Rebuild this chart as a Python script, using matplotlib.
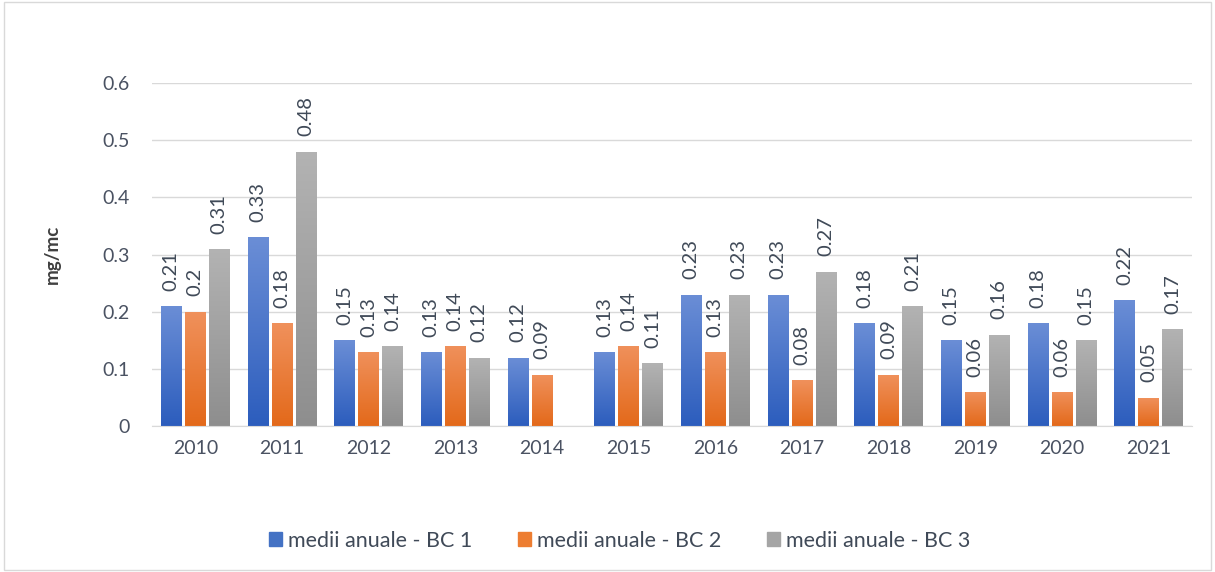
import numpy as np
import matplotlib
matplotlib.use("Agg")
import matplotlib.pyplot as plt
from matplotlib.colors import LinearSegmentedColormap
from matplotlib.patches import Rectangle

years = ["2010", "2011", "2012", "2013", "2014", "2015", "2016", "2017", "2018", "2019", "2020", "2021"]
bc1 = [0.21, 0.33, 0.15, 0.13, 0.12, 0.13, 0.23, 0.23, 0.18, 0.15, 0.18, 0.22]
bc2 = [0.20, 0.18, 0.13, 0.14, 0.09, 0.14, 0.13, 0.08, 0.09, 0.06, 0.06, 0.05]
bc3 = [0.31, 0.48, 0.14, 0.12, np.nan, 0.11, 0.23, 0.27, 0.21, 0.16, 0.15, 0.17]
names = ["medii anuale - BC 1", "medii anuale - BC 2", "medii anuale - BC 3"]

colors = ["#4472C4", "#ED7D31", "#A5A5A5"]
grads = [("#6B8ED6", "#2C5DBD"), ("#F0915C", "#E3691A"), ("#B3B3B3", "#8E8E8E")]

plt.rcParams['font.family'] = ['Lato', 'DejaVu Sans']

fig = plt.figure(figsize=(12.15, 5.72), dpi=100)
ax = fig.add_axes([0.1251, 0.255, 0.856, 0.600])

x = np.arange(len(years))
w = 0.242
offs = [-0.277, 0, 0.277]
series = [bc1, bc2, bc3]
for s, vals, off, col, (top, bot), nm in zip(range(3), series, offs, colors, grads, names):
    bars = ax.bar(x + off, vals, width=w, color=col, label=nm, zorder=2)
    cmap = LinearSegmentedColormap.from_list("g%d" % s, [bot, top])
    grad = np.linspace(0, 1, 256).reshape(-1, 1)
    for b, v in zip(bars, vals):
        if np.isnan(v):
            continue
        b.set_alpha(0)
        x0, y0 = b.get_x(), b.get_y()
        im = ax.imshow(grad, cmap=cmap, origin="lower", aspect="auto",
                       extent=[x0, x0 + b.get_width(), y0, y0 + b.get_height()], zorder=2)
        im.set_clip_path(Rectangle((x0, y0), b.get_width(), b.get_height(), transform=ax.transData))
        ax.annotate(f"{v:g}", (b.get_x() + b.get_width() / 2, v), xytext=(0, 11),
                    textcoords="offset points", rotation=90, ha="center", va="bottom",
                    fontsize=14.5, color="#404A58")

ax.set_xlim(-0.5, len(years) - 0.5)
ax.set_ylim(0, 0.6)
ax.set_yticks([0, 0.1, 0.2, 0.3, 0.4, 0.5, 0.6])
ax.set_yticklabels(["0", "0.1", "0.2", "0.3", "0.4", "0.5", "0.6"])
ax.set_xticks(x)
ax.set_xticklabels(years)
ax.tick_params(axis="both", length=0, labelsize=14, colors="#4A5262", pad=10)
ax.tick_params(axis="y", pad=16)
ax.yaxis.grid(True, color="#D9D9D9", linewidth=1, zorder=0)
ax.set_axisbelow(True)
for sp in ["top", "right", "left"]:
    ax.spines[sp].set_visible(False)
ax.spines["bottom"].set_color("#D9D9D9")
ax.set_ylabel("mg/mc", fontsize=13.5, fontweight="bold", color="#404040", labelpad=30)

handles = [Rectangle((0, 0), 1, 1, color=c) for c in colors]
fig.legend(handles, names, loc="center", bbox_to_anchor=(0.51, 0.055), ncol=3, frameon=False,
           fontsize=15.5, handlelength=0.6, handleheight=0.6, handletextpad=0.3, columnspacing=2.1,
           labelcolor="#404A58")

fig.patches.append(Rectangle((0.003, 0.003), 0.994, 0.994, transform=fig.transFigure,
                             fill=False, edgecolor="#D9D9D9", linewidth=1))
fig.savefig("out.png", dpi=100)
